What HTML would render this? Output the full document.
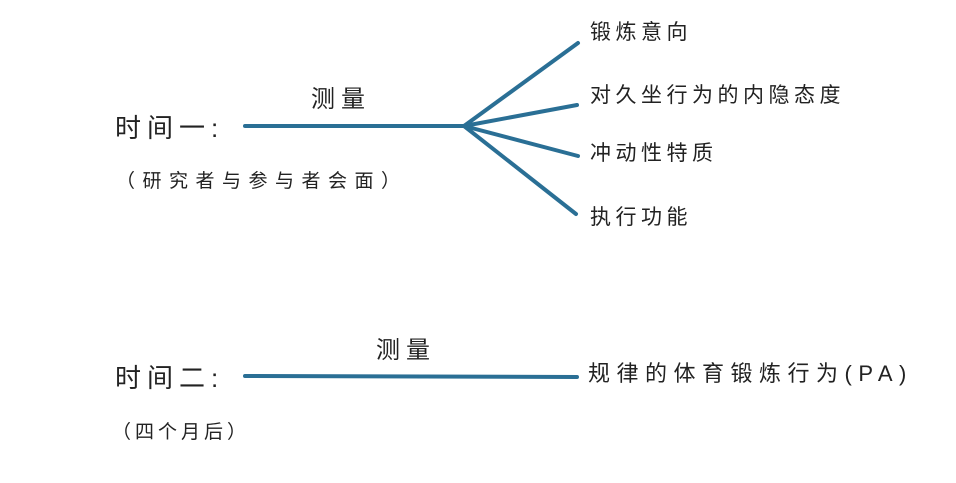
<!DOCTYPE html>
<html><head><meta charset="utf-8"><style>
body{margin:0;width:956px;height:483px;background:#fff;overflow:hidden;position:relative;font-family:"Liberation Sans","Noto Sans CJK SC",sans-serif;color:#222}
.t{position:absolute;white-space:nowrap;line-height:1}
</style></head><body>
<svg width="956" height="483" style="position:absolute;left:0;top:0">
<g stroke="#2a6f95" stroke-width="4" stroke-linecap="round" fill="none">
<line x1="245" y1="126" x2="464" y2="126"/>
<line x1="464" y1="126" x2="578" y2="43"/>
<line x1="464" y1="126" x2="577" y2="105"/>
<line x1="464" y1="126" x2="578" y2="156"/>
<line x1="464" y1="126" x2="576" y2="214"/>
<line x1="245" y1="376" x2="577" y2="377"/>
</g></svg>
<div class="t" style="left:115px;top:115px;font-size:26px;letter-spacing:6px">时间一:</div>
<div class="t" style="left:311px;top:88px;font-size:24px;letter-spacing:6px">测量</div>
<div class="t" style="left:116px;top:172px;font-size:19px;letter-spacing:7.5px">（研究者与参与者会面）</div>
<div class="t" style="left:590px;top:22px;font-size:21px;letter-spacing:4.5px">锻炼意向</div>
<div class="t" style="left:590px;top:85px;font-size:21px;letter-spacing:4.5px">对久坐行为的内隐态度</div>
<div class="t" style="left:590px;top:143px;font-size:21px;letter-spacing:4.5px">冲动性特质</div>
<div class="t" style="left:590px;top:207px;font-size:21px;letter-spacing:4.5px">执行功能</div>
<div class="t" style="left:115px;top:365px;font-size:26px;letter-spacing:6px">时间二:</div>
<div class="t" style="left:376px;top:339px;font-size:24px;letter-spacing:6px">测量</div>
<div class="t" style="left:112px;top:423px;font-size:19px;letter-spacing:4px">（四个月后）</div>
<div class="t" style="left:588px;top:363px;font-size:22px;letter-spacing:6.5px">规律的体育锻炼行为(PA)</div>
</body></html>
